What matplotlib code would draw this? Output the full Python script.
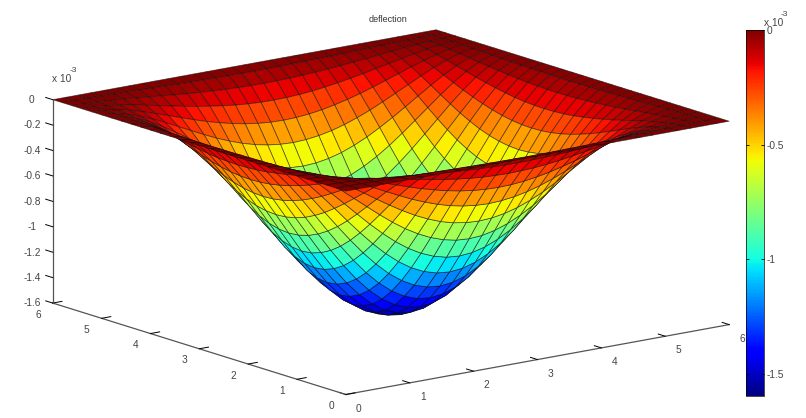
import numpy as np
import matplotlib
matplotlib.use("Agg")
import matplotlib.pyplot as plt
from matplotlib import cm
from matplotlib.colors import Normalize

plt.rcParams['font.family'] = ['Liberation Sans', 'DejaVu Sans']

W, H = 806, 418

# node positions along one side of the plate, quarter plate up to the middle
half_nodes = [0, 0.2, 0.4, 0.6, 0.8, 1, 1.2, 1.4, 1.6, 1.8, 2, 2.2, 2.4, 2.6, 2.8, 3]

# sag (x 10^-3), one quarter of the plate, edge to centre
quarter_sag = [
    [0, 0, 0, 0, 0, 0, 0, 0, 0, 0, 0, 0, 0, 0, 0, 0],
    [0, 0.000, 0.002, 0.003, 0.006, 0.008, 0.011, 0.014, 0.016, 0.019, 0.021, 0.023, 0.024, 0.026, 0.026, 0.027],
    [0, 0.002, 0.006, 0.013, 0.021, 0.031, 0.041, 0.051, 0.061, 0.070, 0.078, 0.085, 0.091, 0.095, 0.098, 0.099],
    [0, 0.003, 0.013, 0.027, 0.044, 0.064, 0.085, 0.106, 0.127, 0.146, 0.163, 0.178, 0.191, 0.200, 0.205, 0.207],
    [0, 0.006, 0.021, 0.044, 0.073, 0.105, 0.140, 0.175, 0.209, 0.241, 0.269, 0.294, 0.314, 0.329, 0.338, 0.341],
    [0, 0.008, 0.031, 0.064, 0.105, 0.152, 0.202, 0.252, 0.301, 0.348, 0.389, 0.425, 0.454, 0.475, 0.488, 0.493],
    [0, 0.011, 0.041, 0.085, 0.140, 0.202, 0.268, 0.335, 0.400, 0.461, 0.517, 0.564, 0.603, 0.631, 0.648, 0.654],
    [0, 0.014, 0.051, 0.106, 0.175, 0.252, 0.335, 0.418, 0.500, 0.577, 0.646, 0.705, 0.753, 0.788, 0.810, 0.817],
    [0, 0.016, 0.061, 0.127, 0.209, 0.301, 0.400, 0.500, 0.598, 0.689, 0.772, 0.843, 0.900, 0.942, 0.968, 0.977],
    [0, 0.019, 0.070, 0.146, 0.241, 0.348, 0.461, 0.577, 0.689, 0.795, 0.890, 0.972, 1.038, 1.086, 1.116, 1.126],
    [0, 0.021, 0.078, 0.163, 0.269, 0.389, 0.517, 0.646, 0.772, 0.890, 0.996, 1.088, 1.162, 1.217, 1.250, 1.261],
    [0, 0.023, 0.085, 0.178, 0.294, 0.425, 0.564, 0.705, 0.843, 0.972, 1.088, 1.188, 1.269, 1.328, 1.365, 1.377],
    [0, 0.024, 0.091, 0.191, 0.314, 0.454, 0.603, 0.753, 0.900, 1.038, 1.162, 1.269, 1.356, 1.419, 1.458, 1.471],
    [0, 0.026, 0.095, 0.200, 0.329, 0.475, 0.631, 0.788, 0.942, 1.086, 1.217, 1.328, 1.419, 1.485, 1.526, 1.540],
    [0, 0.026, 0.098, 0.205, 0.338, 0.488, 0.648, 0.810, 0.968, 1.116, 1.250, 1.365, 1.458, 1.526, 1.568, 1.582],
    [0, 0.027, 0.099, 0.207, 0.341, 0.493, 0.654, 0.817, 0.977, 1.126, 1.261, 1.377, 1.471, 1.540, 1.582, 1.596],
]

xy_ticks = [0, 1, 2, 3, 4, 5, 6]
z_ticks = [-1.6, -1.4, -1.2, -1, -0.8, -0.6, -0.4, -0.2, 0]
z_labels = ['-1.6', '-1.4', '-1.2', '-1', '-0.8', '-0.6', '-0.4', '-0.2', '0']
cbar_ticks = [-1.5, -1, -0.5, 0]
cbar_labels = ['-1.5', '-1', '-0.5', '0']
z_min = -1.596

# the plate is symmetric so mirror the quarter
half = np.array(half_nodes)
nodes = np.concatenate([half, 6 - half[-2::-1]])
q = np.array(quarter_sag)
top = np.hstack([q, q[:, -2::-1]])
sag = np.vstack([top, top[-2::-1]])
X, Y = np.meshgrid(nodes, nodes)
Z = -sag

fig = plt.figure(figsize=(W / 100, H / 100), dpi=100)
side = 693
ax = fig.add_axes([35.1 / W, -150 / H, side / W, side / H], projection='3d', proj_type='ortho')
ax.patch.set_alpha(0)
ax.set_box_aspect((1, 1, 0.434))
ax.view_init(elev=13.8, azim=-127.4)

norm = Normalize(vmin=z_min, vmax=0)
surf = ax.plot_surface(X, Y, Z, rstride=1, cstride=1, cmap='jet', norm=norm,
                       edgecolor=(0.05, 0.05, 0.05, 0.6), linewidth=0.55, antialiased=True)
surf.set_clip_on(False)

ax.set_xlim(0, 6)
ax.set_ylim(0, 6)
ax.set_zlim(-1.6, 0)
ax.set_xticks(xy_ticks)
ax.set_yticks(xy_ticks)
ax.set_zticks(z_ticks)
ax.set_zticklabels(z_labels)
ax.grid(False)

grey = '#555555'
for axis in (ax.xaxis, ax.yaxis, ax.zaxis):
    axis.set_pane_color((1, 1, 1, 0))
    axis.pane.set_edgecolor((1, 1, 1, 0))
    axis.line.set_color(grey)
    axis.line.set_linewidth(0.9)
    axis._axinfo['tick']['inward_factor'] = 0
    axis._axinfo['tick']['outward_factor'] = 0.3
    axis._axinfo['tick']['linewidth'] = {True: 0.7, False: 0.5}
    axis._axinfo['tick']['color'] = grey
ax.tick_params(labelsize=7.3, labelcolor='#444444', pad=2)
ax.tick_params(axis='x', pad=3.5)
ax.tick_params(axis='z', pad=0)

# z axis sits on the far left corner, its ticks run along y
ax.zaxis._axinfo['juggled'] = (0, 2, 1)
ax.zaxis._get_tickdir = lambda position: 1

for axis in (ax.xaxis, ax.yaxis, ax.zaxis):
    for lab in axis.get_ticklabels():
        lab.set_va('center_baseline')

fig.text(388 / W, 1 - 20 / H, 'deflection', fontsize=6.5, color='#333333', ha='center', va='center')
fig.text(52 / W, 1 - 79 / H, 'x 10', fontsize=7.3, color='#444444', ha='left', va='center')
fig.text(70 / W, 1 - 71 / H, '-3', fontsize=6, color='#444444', ha='left', va='center')

cax = fig.add_axes([746 / W, 1 - 396 / H, 18 / W, 366 / H])
cb = fig.colorbar(cm.ScalarMappable(norm=norm, cmap='jet'), cax=cax)
cb.set_ticks(cbar_ticks)
cb.set_ticklabels(cbar_labels)
cax.tick_params(labelsize=7.3, labelcolor='#444444', length=2, width=0.6, direction='in',
                left=True, right=True, pad=2)
cb.outline.set_linewidth(0.5)
fig.text(764 / W, 1 - 22.5 / H, 'x 10', fontsize=7.3, color='#444444', ha='left', va='center')
fig.text(781 / W, 1 - 14.5 / H, '-3', fontsize=6, color='#444444', ha='left', va='center')

fig.savefig('out.png', dpi=100)
